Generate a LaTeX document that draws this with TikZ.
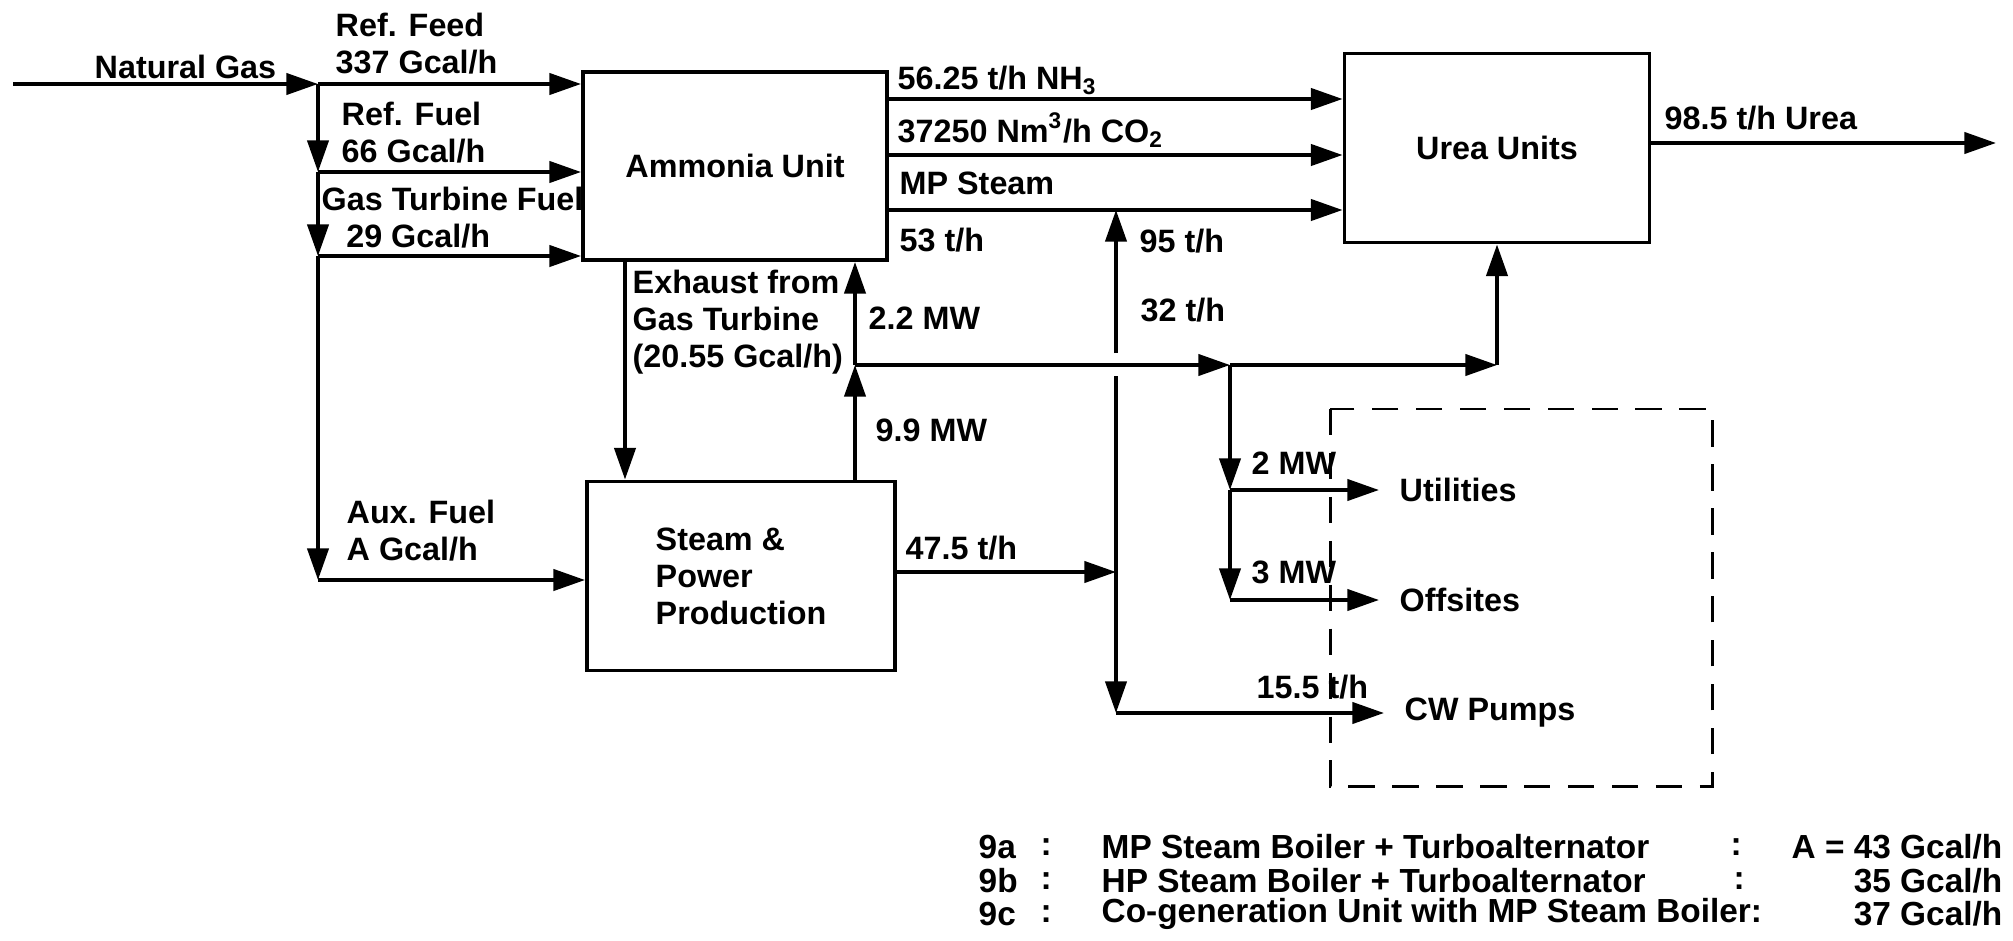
\documentclass[tikz,border=0pt]{standalone}
\usepackage{fontspec}
\setmainfont{Liberation Sans}
\usetikzlibrary{arrows.meta}

\begin{document}
\begin{tikzpicture}[x=0.1mm, y=-0.1mm,
        unit/.style={draw, line width=1.1pt, inner sep=0pt,
                     font=\fontsize{9.2}{10.5}\selectfont\bfseries},
        lbl/.style={font=\fontsize{9.2}{10.5}\selectfont\bfseries,
                    anchor=west, inner sep=0pt, align=left},
        key/.style={font=\fontsize{9.5}{10.5}\selectfont\bfseries,
                    anchor=west, inner sep=0pt},
        sink/.style={lbl, inner xsep=2mm},
        pipe/.style={line width=1.1pt},
        flow/.style={pipe, -{Triangle[length=9pt, width=6pt]}},
        bnd/.style={line width=0.85pt, dash pattern=on 7.5pt off 5pt}
    ]

    \useasboundingbox (0,0) rectangle (2013,940);

    \node[unit, minimum width=30.4mm, minimum height=18.8mm] (amm) at (735,166) {Ammonia Unit};
    \node[unit, minimum width=30.5mm, minimum height=18.9mm] (urea) at (1497,148) {Urea Units};
    \node[unit, minimum width=30.8mm, minimum height=18.9mm, align=left] (spp) at (741,576)
        {Steam \&\\Power\\Production};

    \node[sink] (util) at (1379,490) {Utilities};
    \node[sink] (offs) at (1379,600) {Offsites};
    \node[sink] (cw) at (1384,713) {CW Pumps};

    \coordinate (ng) at (13,84);
    \coordinate (jfeed) at (318,84);
    \coordinate (jfuel) at (318,172);
    \coordinate (jgt) at (318,256);
    \coordinate (jaux) at (318,580);

    \draw[flow] (ng) -- (jfeed);
    \draw[flow] (jfeed) -- (jfeed -| amm.west);
    \draw[flow] (jfeed) -- (jfuel);
    \draw[flow] (jfuel) -- (jfuel -| amm.west);
    \draw[flow] (jfuel) -- (jgt);
    \draw[flow] (jgt) -- (jgt -| amm.west);
    \draw[flow] (jgt) -- (jaux);
    \draw[flow] (jaux) -- (jaux -| spp.west);

    \coordinate (prod) at (1996,143);
    \draw[flow] (amm.east |- 0,99) -- (urea.west |- 0,99);
    \draw[flow] (amm.east |- 0,155) -- (urea.west |- 0,155);
    \draw[flow] (amm.east |- 0,210) -- (urea.west |- 0,210);
    \draw[flow] (urea.east |- prod) -- (prod);

    \draw[flow] (amm.south -| 625,0) -- (spp.north -| 625,0);

    \coordinate (jst) at (1116,572);
    \coordinate (jcw) at (1116,713);
    \coordinate (gaplo) at (1116,376);
    \coordinate (gaphi) at (1116,353);
    \coordinate (jmp) at (1116,210);

    \draw[flow] (spp.east |- jst) -- (jst);
    \draw[pipe] (jst) -- (gaplo);
    \draw[flow] (gaphi) -- (jmp);
    \draw[flow] (jst) -- (jcw);
    \draw[flow] (jcw) -- (cw.west);

    \coordinate (jel) at (855,365);
    \coordinate (jsplit) at (1230,365);
    \coordinate (jurea) at (1497,365);
    \coordinate (jutil) at (1230,490);
    \coordinate (joff) at (1230,600);

    \draw[flow] (spp.north -| jel) -- (jel);
    \draw[flow] (jel) -- (amm.south -| jel);
    \draw[flow] (jel) -- (jsplit);
    \draw[flow] (jsplit) -- (jurea);
    \draw[flow] (jurea) -- (urea.south -| jurea);
    \draw[flow] (jsplit) -- (jutil);
    \draw[flow] (jutil) -- (util.west);
    \draw[flow] (jutil) -- (joff);
    \draw[flow] (joff) -- (offs.west);

    \draw[bnd] (1330,409) rectangle (1712,786);

    \node[lbl] (ngl) at (94,67) {Natural Gas};
    \node[lbl] (feedl) at (335,44) {Ref. Feed\\337 Gcal/h};
    \node[lbl] (fuell) at (341,133) {Ref. Fuel\\66 Gcal/h};
    \node[lbl] (gtl) at (321,218) {Gas Turbine Fuel\\\hspace{7pt}29 Gcal/h};
    \node[lbl] (auxl) at (346,531) {Aux. Fuel\\A Gcal/h};
    \node[lbl] (exhl) at (632,322) {Exhaust from\\Gas Turbine\\(20.55 Gcal/h)};
    \node[lbl] (el22) at (868,318) {2.2 MW};
    \node[lbl] (el99) at (875,430) {9.9 MW};
    \node[lbl] (nh3l) at (897,80) {56.25 t/h NH\textsubscript{3}};
    \node[lbl] (co2l) at (897,130) {37250 Nm\textsuperscript{3}/h CO\textsubscript{2}};
    \node[lbl] (mpl) at (899,183) {MP Steam};
    \node[lbl] (mp53) at (899,240) {53 t/h};
    \node[lbl] (st95) at (1139,241) {95 t/h};
    \node[lbl] (st32) at (1140,310) {32 t/h};
    \node[lbl] (st47) at (905,548) {47.5 t/h};
    \node[lbl] (ureal) at (1664,118) {98.5 t/h Urea};
    \node[lbl] (el2) at (1251,463) {2 MW};
    \node[lbl] (el3) at (1251,572) {3 MW};
    \node[lbl] (st15) at (1256,687) {15.5 t/h};

    \node[key] (k9a) at (978,847) {9a};
    \node[key] (c9a) at (1040,847) {:};
    \node[key] (t9a) at (1101,847) {MP Steam Boiler + Turboalternator};
    \node[key] (d9a) at (1730,847) {:};
    \node[key, anchor=east] (v9a) at (2003,847) {A = 43 Gcal/h};

    \node[key] (k9b) at (978,881) {9b};
    \node[key] (c9b) at (1040,881) {:};
    \node[key] (t9b) at (1101,881) {HP Steam Boiler + Turboalternator};
    \node[key] (d9b) at (1733,881) {:};
    \node[key, anchor=east] (v9b) at (2003,881) {35 Gcal/h};

    \node[key] (k9c) at (978,914) {9c};
    \node[key] (c9c) at (1040,914) {:};
    \node[key] (t9c) at (1101,914) {Co-generation Unit with MP Steam Boiler:};
    \node[key, anchor=east] (v9c) at (2003,914) {37 Gcal/h};

\end{tikzpicture}
\end{document}
